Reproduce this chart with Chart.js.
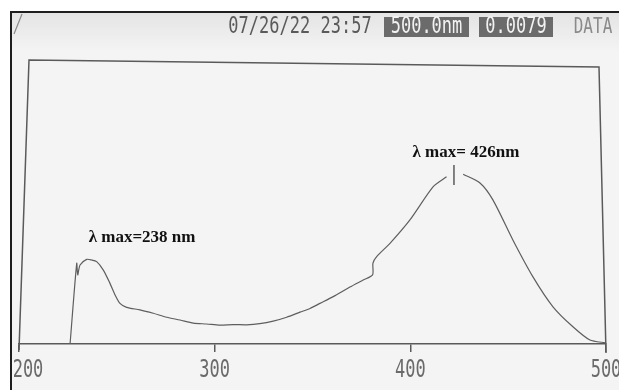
<!DOCTYPE html>
<html>
<head>
<meta charset="utf-8">
<script src="https://cdn.jsdelivr.net/npm/chart.js@4/dist/chart.umd.min.js"></script>
<style>
html,body{margin:0;padding:0;background:#ffffff;}
canvas{display:block;}
</style>
</head>
<body>
<canvas id="c" width="619" height="390"></canvas>
<script>
// ---- data ----
const wavelengths = [226.1, 229.5, 230.0, 231.2, 234.6, 237.1, 239.7, 243.1, 246.5, 249.1, 251.6, 255.0, 261.8, 268.6, 275.5, 282.3, 289.1, 295.9, 302.7, 309.5, 316.3, 323.1, 329.9, 336.8, 343.6, 348.7, 353.8, 360.6, 369.1, 375.9, 380.7, 380.9, 382.8, 389.6, 399.8, 411.7, 418.5, 422.3, 427.0, 435.6, 442.2, 452.4, 462.6, 472.9, 483.1, 491.8, 499.8];
const absorbance  = [0.0, 0.286, 0.245, 0.280, 0.300, 0.298, 0.292, 0.262, 0.215, 0.174, 0.144, 0.130, 0.121, 0.109, 0.095, 0.085, 0.074, 0.071, 0.067, 0.069, 0.068, 0.072, 0.081, 0.095, 0.113, 0.126, 0.144, 0.168, 0.202, 0.227, 0.245, 0.287, 0.310, 0.357, 0.440, 0.558, 0.593, null, 0.602, 0.571, 0.511, 0.369, 0.239, 0.132, 0.061, 0.014, 0.004];
const markerX = [422.3, 422.3];
const markerY = [0.635, 0.564];
const tickLabels = ['200', '300', '400', '500'];
const annotationTexts = ['λ max=238 nm', 'λ max= 426nm'];
const annotationX = [262.9, 428.4];
const annotationY = [0.379, 0.677];
const headerDate = '07/26/22 23:57';
const headerWavelength = '500.0nm';
const headerValue = '0.0079';
const headerMode = 'DATA';

const curvePoints = wavelengths.map((w, i) => ({x: w, y: absorbance[i]}));
const markerPoints = markerX.map((w, i) => ({x: w, y: markerY[i]}));

function stretchedText(ctx, text, x, y, sy, align, color, font) {
  ctx.save();
  ctx.font = font;
  ctx.fillStyle = color;
  ctx.textAlign = align;
  ctx.textBaseline = 'middle';
  ctx.translate(x, y);
  ctx.scale(1, sy);
  ctx.fillText(text, 0, 0);
  ctx.restore();
}

const decor = {
  id: 'decor',
  beforeDraw(chart) {
    const ctx = chart.ctx;
    const W = chart.width, H = chart.height;
    ctx.save();
    ctx.fillStyle = '#ffffff';
    ctx.fillRect(0, 0, W, H);
    ctx.fillStyle = '#f4f4f4';
    ctx.fillRect(12, 13, W - 12, H - 13);
    const g = ctx.createLinearGradient(0, 13, 0, 52);
    g.addColorStop(0, '#e4e4e4');
    g.addColorStop(1, '#f4f4f4');
    ctx.fillStyle = g;
    ctx.fillRect(12, 13, W - 12, 39);
    // outer frame
    ctx.strokeStyle = '#1e1e1e';
    ctx.lineWidth = 2;
    ctx.beginPath();
    ctx.moveTo(11, H);
    ctx.lineTo(11, 12);
    ctx.lineTo(W, 12);
    ctx.stroke();
    // small slash mark
    ctx.strokeStyle = '#8a8a8a';
    ctx.lineWidth = 1.2;
    ctx.beginPath();
    ctx.moveTo(22, 14);
    ctx.lineTo(14, 34);
    ctx.stroke();
    // header
    const f = '17px "DejaVu Sans Mono"';
    stretchedText(ctx, headerDate, 300, 27, 1.35, 'center', '#5a5a5a', f);
    ctx.fillStyle = '#6b6b6b';
    ctx.fillRect(384, 17, 85, 20);
    ctx.fillRect(479, 17, 74, 20);
    stretchedText(ctx, headerWavelength, 426.5, 27, 1.35, 'center', '#f2f2f2', f);
    stretchedText(ctx, headerValue, 516, 27, 1.35, 'center', '#f2f2f2', f);
    stretchedText(ctx, headerMode, 593, 27, 1.35, 'center', '#8a8a8a', '16px "DejaVu Sans Mono"');
    // plot box (slightly keystoned as in the photo)
    const a = chart.chartArea;
    ctx.strokeStyle = '#5a5a5a';
    ctx.lineWidth = 1.5;
    ctx.beginPath();
    ctx.moveTo(a.left, a.bottom + 6);
    ctx.lineTo(a.left + 10, a.top - 2);
    ctx.lineTo(a.right - 7, a.top + 5);
    ctx.lineTo(a.right, a.bottom + 9);
    ctx.stroke();
    ctx.restore();
  },
  afterDraw(chart) {
    const ctx = chart.ctx;
    const xs = chart.scales.x, ys = chart.scales.y;
    xs.ticks.forEach((t, i) => {
      const px = xs.getPixelForValue(t.value);
      const off = i === 0 ? 9 : 0;
      stretchedText(ctx, tickLabels[i], px + off, 371, 1.45, 'center', '#6a6a6a', '17px "DejaVu Sans Mono"');
    });
    annotationTexts.forEach((txt, i) => {
      ctx.save();
      ctx.font = 'bold 17px "Liberation Serif"';
      ctx.fillStyle = '#111';
      ctx.textAlign = 'center';
      ctx.textBaseline = 'middle';
      ctx.fillText(txt, xs.getPixelForValue(annotationX[i]), ys.getPixelForValue(annotationY[i]));
      ctx.restore();
    });
  }
};

new Chart(document.getElementById('c'), {
  type: 'line',
  data: {
    datasets: [
      {
        data: curvePoints,
        borderColor: '#5e5e5e',
        borderWidth: 1.2,
        pointRadius: 0,
        tension: 0.25,
        spanGaps: false,
        fill: false
      },
      {
        data: markerPoints,
        borderColor: '#444',
        borderWidth: 1.3,
        pointRadius: 0,
        fill: false
      }
    ]
  },
  options: {
    responsive: false,
    devicePixelRatio: 1,
    animation: false,
    events: [],
    layout: {padding: {left: 19, right: 13, top: 62, bottom: 38}},
    plugins: {legend: {display: false}, tooltip: {enabled: false}},
    scales: {
      x: {
        type: 'linear',
        min: 200, max: 500,
        position: 'bottom',
        ticks: {display: false, stepSize: 100},
        grid: {drawOnChartArea: false, drawTicks: true, tickLength: 8, color: '#5a5a5a', lineWidth: 1.5},
        border: {display: true, color: '#5a5a5a', width: 1.5}
      },
      y: {
        type: 'linear',
        min: 0, max: 1,
        display: false
      }
    }
  },
  plugins: [decor]
});
</script>
</body>
</html>
